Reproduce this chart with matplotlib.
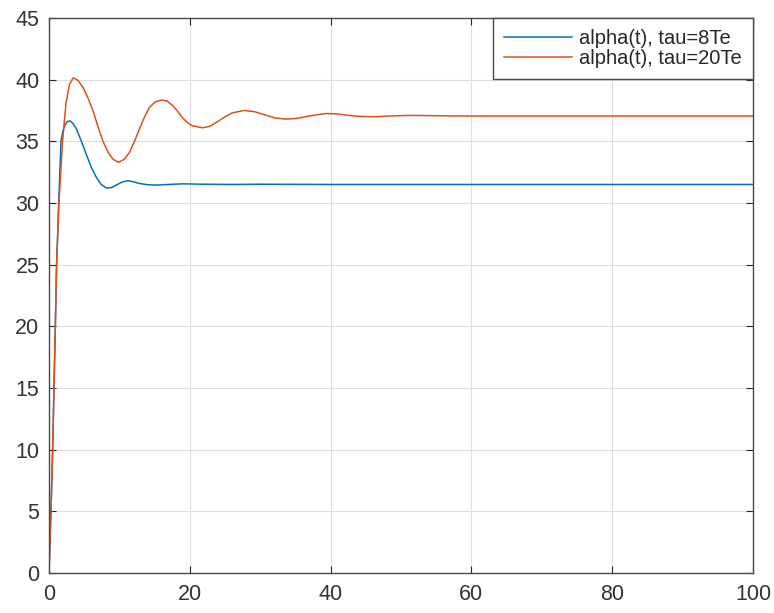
import matplotlib
matplotlib.use('Agg')
import matplotlib.pyplot as plt

# valeurs
t_tau8 = [0, 0.28, 0.52, 0.71, 0.9, 1.08, 1.38, 1.7, 2.0, 2.3, 2.6, 3.0, 3.4, 3.9, 4.6, 5.3,
          6.0, 6.7, 7.4, 8.2, 8.9, 9.55, 10.4, 11.2, 12.0, 12.85, 14.0, 15.2, 17.0, 19.0, 22,
          26, 30, 40, 60, 100]
alpha_tau8 = [0, 5, 10, 15, 20, 25, 30, 35, 35.9, 36.35, 36.6, 36.65, 36.45, 36.0, 35.0, 33.95,
              32.9, 32.1, 31.5, 31.2, 31.25, 31.45, 31.7, 31.8, 31.72, 31.58, 31.48, 31.45, 31.5,
              31.55, 31.52, 31.5, 31.52, 31.5, 31.5, 31.5]

t_tau20 = [0, 0.28, 0.52, 0.71, 0.9, 1.08, 1.41, 1.93, 2.4, 2.9, 3.44, 4.1, 4.85, 5.55, 6.26,
           6.95, 7.67, 8.4, 9.08, 9.9, 10.7, 11.44, 12.15, 12.85, 13.55, 14.27, 15.1, 16.0,
           16.8, 17.56, 18.25, 18.97, 19.7, 20.4, 21.8, 22.8, 23.7, 24.9, 26.0, 27.7, 29.2,
           30.6, 32.1, 33.6, 35.1, 36.5, 38.0, 39.4, 40.9, 42.3, 43.8, 45.3, 46.8, 48.3, 49.9,
           51.4, 54, 57, 60, 70, 80, 100]
alpha_tau20 = [0, 5, 10, 15, 20, 25, 30, 35, 38.0, 39.6, 40.15, 39.95, 39.35, 38.5, 37.46,
               36.2, 35.0, 34.1, 33.55, 33.3, 33.55, 34.1, 35.0, 36.0, 36.95, 37.75, 38.2, 38.35,
               38.25, 37.9, 37.45, 36.9, 36.5, 36.25, 36.1, 36.2, 36.5, 36.95, 37.3, 37.5, 37.4,
               37.15, 36.9, 36.8, 36.85, 37.0, 37.15, 37.25, 37.22, 37.12, 37.03, 37.0, 37.0,
               37.05, 37.08, 37.1, 37.08, 37.06, 37.05, 37.05, 37.05, 37.05]

labels = ['alpha(t), tau=8Te', 'alpha(t), tau=20Te']
x_ticks = [0, 20, 40, 60, 80, 100]
y_ticks = [0, 5, 10, 15, 20, 25, 30, 35, 40, 45]

plt.rcParams['font.family'] = ['Liberation Sans', 'DejaVu Sans']

fig = plt.figure(figsize=(7.74, 6.13), dpi=100)
ax = fig.add_axes([0.0633, 0.0653, 0.9096, 0.9054])

ax.plot(t_tau8, alpha_tau8, color='#0072BD', lw=1.1, label=labels[0])
ax.plot(t_tau20, alpha_tau20, color='#D95319', lw=1.1, label=labels[1])

ax.set_xlim(0, 100)
ax.set_ylim(0, 45)
ax.set_xticks(x_ticks)
ax.set_yticks(y_ticks)
ax.grid(True, color='#dedede', lw=0.8)
ax.set_axisbelow(True)

for s in ax.spines.values():
    s.set_color('#4a4a4a')
    s.set_linewidth(1.0)
ax.tick_params(direction='in', length=5, width=0.8, color='#262626',
               top=True, right=True, labelsize=15.5, labelcolor='#333333')
ax.tick_params(axis='x', pad=8)
ax.tick_params(axis='y', pad=7)

leg = ax.legend(loc='upper right', borderaxespad=0, fontsize=14.5, fancybox=False,
                framealpha=1, edgecolor='#4a4a4a', handlelength=3.4, handletextpad=0.35,
                labelspacing=0.05, borderpad=0.55)
leg.get_frame().set_linewidth(1.0)
for txt in leg.get_texts():
    txt.set_color('#262626')

fig.savefig('out.png', dpi=100)
